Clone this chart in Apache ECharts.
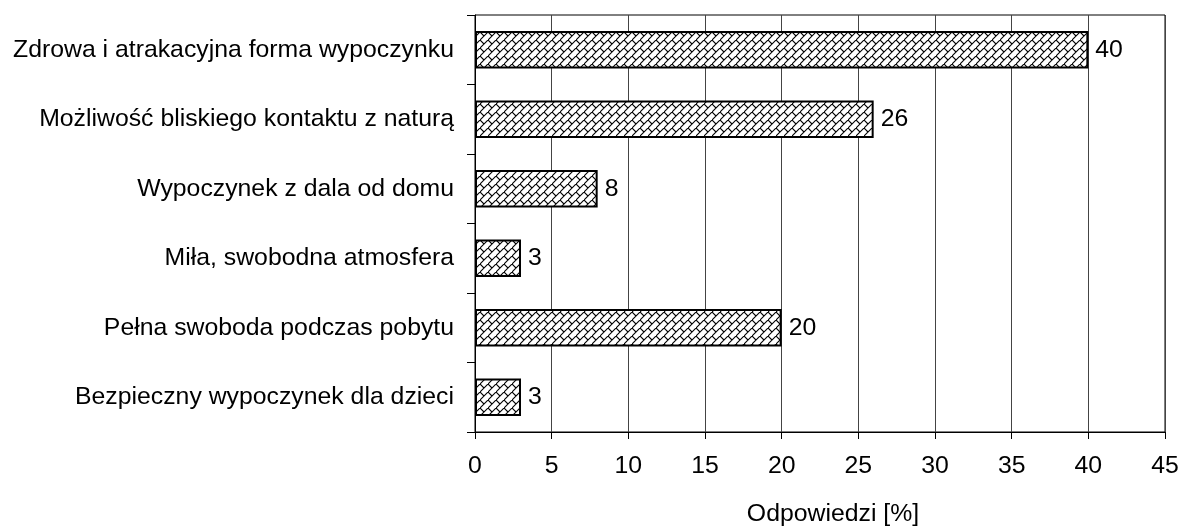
<!DOCTYPE html>
<html>
<head>
<meta charset="utf-8">
<script src="https://cdn.jsdelivr.net/npm/echarts@6/dist/echarts.min.js"></script>
<style>
html,body{margin:0;padding:0;background:#fff;}
#chart{width:1182px;height:532px;}
</style>
</head>
<body>
<div id="chart"></div>
<script>
const categories = [
  'Zdrowa i atrakacyjna forma wypoczynku',
  'Możliwość bliskiego kontaktu z naturą',
  'Wypoczynek z dala od domu',
  'Miła, swobodna atmosfera',
  'Pełna swoboda podczas pobytu',
  'Bezpieczny wypoczynek dla dzieci'
];
const values = [40, 26, 8, 3, 20, 3];
const xTicks = [0, 5, 10, 15, 20, 25, 30, 35, 40, 45];
const xAxisName = 'Odpowiedzi [%]';

// brick hatch pattern
const tile = document.createElement('canvas');
tile.width = 8; tile.height = 8;
const c = tile.getContext('2d');
c.fillStyle = '#fff';
c.fillRect(0, 0, 8, 8);
c.strokeStyle = '#000';
c.lineWidth = 1.1;
c.beginPath();
c.moveTo(-1, 9); c.lineTo(9, -1);
c.moveTo(0, 0); c.lineTo(4, 4);
c.stroke();

const chart = echarts.init(document.getElementById('chart'), null, {renderer: 'canvas'});
const font = 'Liberation Sans, Arial, sans-serif';
const fs = 24.8;
chart.setOption({
  animation: false,
  backgroundColor: '#fff',
  textStyle: {fontFamily: font},
  grid: {left: 475, right: 17, top: 15, bottom: 84, show: true, borderColor: '#000', borderWidth: 1},
  xAxis: {
    type: 'value',
    min: xTicks[0],
    max: xTicks[xTicks.length - 1],
    interval: 5,
    name: xAxisName,
    nameLocation: 'middle',
    nameGap: 70,
    nameTextStyle: {fontSize: fs, color: '#000', fontFamily: font, padding: [0, 0, 0, 26]},
    axisLine: {show: true, lineStyle: {color: '#000', width: 1}},
    axisTick: {show: true, length: 7, lineStyle: {color: '#000'}},
    axisLabel: {fontSize: fs, color: '#000', fontFamily: font, margin: 22},
    splitLine: {show: true, lineStyle: {color: '#444', width: 1}}
  },
  yAxis: {
    type: 'category',
    data: categories,
    inverse: true,
    axisLine: {show: true, lineStyle: {color: '#000', width: 1}},
    axisTick: {show: true, length: 8, lineStyle: {color: '#000'}},
    axisLabel: {fontSize: fs, color: '#000', fontFamily: font, margin: 21},
    splitLine: {show: false}
  },
  series: [{
    type: 'bar',
    data: values,
    barCategoryGap: '46%',
    itemStyle: {
      color: {image: tile, repeat: 'repeat'},
      borderColor: '#000',
      borderWidth: 2
    },
    label: {
      show: true,
      position: 'right',
      distance: 7,
      fontSize: fs,
      color: '#000',
      fontFamily: font
    }
  }]
});
</script>
</body>
</html>
